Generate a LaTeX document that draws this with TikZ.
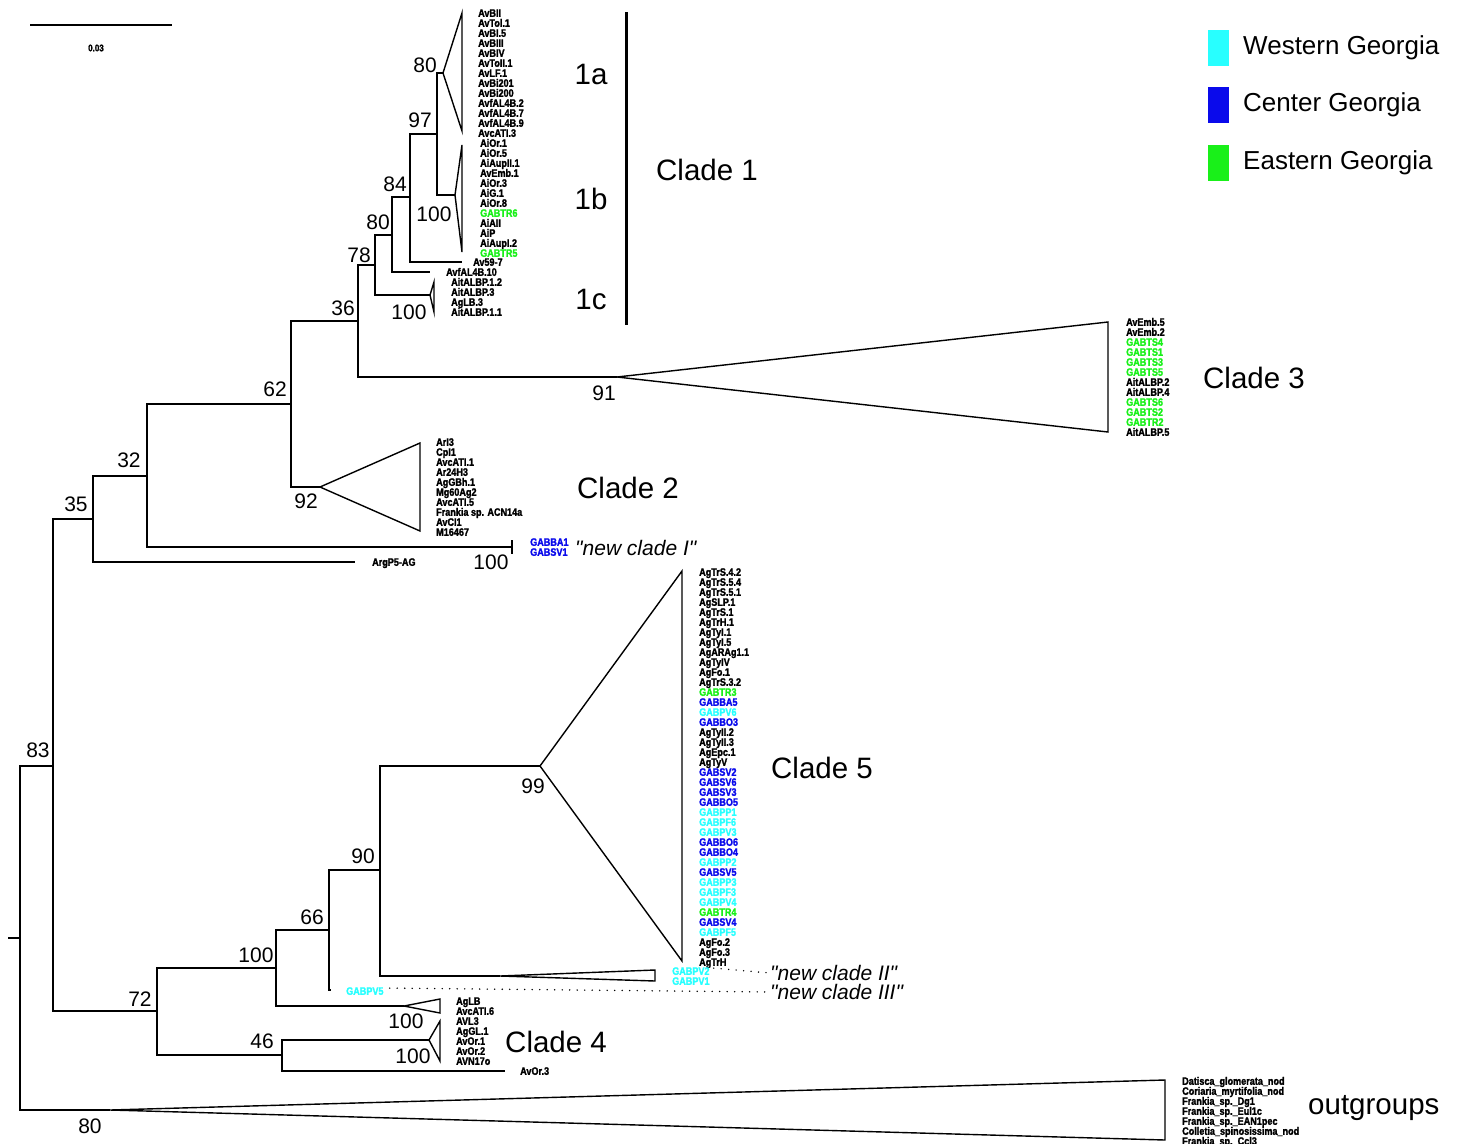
\documentclass[tikz,border=0pt]{standalone}
\usepackage{fontspec}
\setmainfont{Liberation Sans}
\newfontfamily\tipfont[FakeStretch=0.84,FakeBold=1.8]{Liberation Sans Bold}
\usepackage{xcolor}
\definecolor{westgeo}{RGB}{40,255,255}
\definecolor{centgeo}{RGB}{10,10,235}
\definecolor{eastgeo}{RGB}{25,240,25}
\newcommand{\colW}{\color{westgeo}}
\newcommand{\colC}{\color{centgeo}}
\newcommand{\colE}{\color{eastgeo}}
\tikzset{
  branch/.style={line width=1.4pt},
  collapsed/.style={line width=1.4pt, line join=miter},
  tip/.style={font=\tipfont\fontsize{10.8}{10}\selectfont, anchor=base west, inner sep=0pt},
  boot/.style={font=\fontsize{21}{21}\selectfont, inner sep=0pt},
  clade/.style={font=\fontsize{29.5}{30}\selectfont, inner sep=0pt},
  newclade/.style={font=\itshape\fontsize{21}{21}\selectfont, anchor=west, inner sep=0pt},
  legendtext/.style={font=\fontsize{26}{26}\selectfont, anchor=west, inner sep=0pt},
  dotline/.style={line width=1.6pt, line cap=round, dash pattern=on 0pt off 7.5pt},
}
% list of tip labels, 10pt apart
\newcommand{\tiplist}[4]{%
  \foreach \t [count=\i] in {#4}
    \node[tip] (#3-\i) at ({#1},{#2+10*(\i-1)+3.8}) {\t};}

\begin{document}
\begin{tikzpicture}[x=1pt,y=-1pt]
  \useasboundingbox (0,0) rectangle (1458,1143);

  % Internal nodes
  \coordinate (stub) at (8,938);
  \coordinate (root) at (20,938);
  \coordinate (n83)  at (53,766);
  \coordinate (n35)  at (93,519);
  \coordinate (n32)  at (147,476);
  \coordinate (n62)  at (291,404);
  \coordinate (n36)  at (358,321);
  \coordinate (n78)  at (375,265);
  \coordinate (n80)  at (392,235);
  \coordinate (n84)  at (410,197);
  \coordinate (n97)  at (437,134);
  \coordinate (n72)  at (157,1011);
  \coordinate (n100) at (276,968);
  \coordinate (n66)  at (329,930);
  \coordinate (n90)  at (380,870);
  \coordinate (n46)  at (282,1055);

  % Collapsed clades and tips
  \coordinate (c1a)  at (443,73);
  \coordinate (c1b)  at (455,195);
  \coordinate (c1c)  at (430,295);
  \coordinate (c2)   at (320,487);
  \coordinate (c3)   at (617,377);
  \coordinate (c5)   at (540,766);
  \coordinate (cII)  at (500,976);
  \coordinate (c4a)  at (404,1006);
  \coordinate (c4b)  at (429,1040);
  \coordinate (og)   at (110,1110);
  \coordinate (cI)   at (512,547);
  \coordinate (tav)  at (462,262);
  \coordinate (tfal) at (430,272);
  \coordinate (targ) at (355,562);
  \coordinate (tpv5) at (331,990);
  \coordinate (tor3) at (505,1071);

  % Branches
  \draw[branch] (stub) -- (root);
  \draw[branch] (root) |- (n83);  \draw[branch] (root) |- (og);
  \draw[branch] (n83) |- (n35);   \draw[branch] (n83) |- (n72);
  \draw[branch] (n35) |- (n32);   \draw[branch] (n35) |- (targ);
  \draw[branch] (n32) |- (n62);   \draw[branch] (n32) |- (cI);
  \draw[branch] (n62) |- (n36);   \draw[branch] (n62) |- (c2);
  \draw[branch] (n36) |- (n78);   \draw[branch] (n36) |- (c3);
  \draw[branch] (n78) |- (n80);   \draw[branch] (n78) |- (c1c);
  \draw[branch] (n80) |- (n84);   \draw[branch] (n80) |- (tfal);
  \draw[branch] (n84) |- (n97);   \draw[branch] (n84) |- (tav);
  \draw[branch] (n97) |- (c1a);   \draw[branch] (n97) |- (c1b);
  \draw[branch] (n72) |- (n100);  \draw[branch] (n72) |- (n46);
  \draw[branch] (n100) |- (n66);  \draw[branch] (n100) |- (c4a);
  \draw[branch] (n66) |- (n90);   \draw[branch] (n66) |- (tpv5);
  \draw[branch] (n90) |- (c5);    \draw[branch] (n90) |- (cII);
  \draw[branch] (n46) |- (c4b);   \draw[branch] (n46) |- (tor3);
  \draw[branch] (cI) ++(0,-7) -- ++(0,14);

  % Triangles
  \draw[collapsed] (c1a) -- ++(19,-60) -- ++(0,118) -- cycle;
  \draw[collapsed] (c1b) -- ++(7,-50) -- ++(0,107) -- cycle;
  \draw[collapsed] (c1c) -- ++(4,-13) -- ++(0,30) -- cycle;
  \draw[collapsed] (c2) -- ++(100,-44) -- ++(0,88) -- cycle;
  \draw[collapsed] (c3) -- ++(491,-55) -- ++(0,110) -- cycle;
  \draw[collapsed] (c5) -- ++(142,-195) -- ++(0,390) -- cycle;
  \draw[collapsed] (cII) -- ++(155,-6) -- ++(0,11) -- cycle;
  \draw[collapsed] (c4a) -- ++(36,-7) -- ++(0,14) -- cycle;
  \draw[collapsed] (c4b) -- ++(11,-19) -- ++(0,40) -- cycle;
  \draw[collapsed] (og) -- ++(1055,-30) -- ++(0,60) -- cycle;

  % Tip labels
  \tiplist{478}{13}{l1a}{AvBII, AvTol.1, AvBI.5, AvBIII, AvBIV, AvToII.1, AvLF.1, AvBi201, AvBi200, AvfAL4B.2, AvfAL4B.7, AvfAL4B.9, AvcATI.3}
  \tiplist{480}{143}{l1b}{AiOr.1, AiOr.5, AiAupII.1, AvEmb.1, AiOr.3, AiG.1, AiOr.8, \colE GABTR6, AiAII, AiP, AiAupI.2, \colE GABTR5}
  \tiplist{473}{262}{lav}{Av59-7}
  \tiplist{446}{272}{lfal}{AvfAL4B.10}
  \tiplist{451}{282}{l1c}{AitALBP.1.2, AitALBP.3, AgLB.3, AitALBP.1.1}
  \tiplist{1126}{322}{l3}{AvEmb.5, AvEmb.2, \colE GABTS4, \colE GABTS1, \colE GABTS3, \colE GABTS5, AitALBP.2, AitALBP.4, \colE GABTS6, \colE GABTS2, \colE GABTR2, AitALBP.5}
  \tiplist{436}{442}{l2}{ArI3, CpI1, AvcATI.1, Ar24H3, AgGBh.1, Mg60Ag2, AvcATI.5, Frankia sp. ACN14a, AvCI1, M16467}
  \tiplist{530}{542}{lI}{\colC GABBA1, \colC GABSV1}
  \tiplist{372}{562}{larg}{ArgP5-AG}
  \tiplist{699}{572}{l5}{AgTrS.4.2, AgTrS.5.4, AgTrS.5.1, AgSLP.1, AgTrS.1, AgTrH.1, AgTyI.1, AgTyI.5, AgARAg1.1, AgTyIV, AgFo.1, AgTrS.3.2, \colE GABTR3, \colC GABBA5, \colW GABPV6, \colC GABBO3, AgTyII.2, AgTyII.3, AgEpc.1, AgTyV, \colC GABSV2, \colC GABSV6, \colC GABSV3, \colC GABBO5, \colW GABPP1, \colW GABPF6, \colW GABPV3, \colC GABBO6, \colC GABBO4, \colW GABPP2, \colC GABSV5, \colW GABPP3, \colW GABPF3, \colW GABPV4, \colE GABTR4, \colC GABSV4, \colW GABPF5, AgFo.2, AgFo.3, AgTrH}
  \tiplist{672}{971}{lII}{\colW GABPV2, \colW GABPV1}
  \tiplist{346}{991}{lIII}{\colW GABPV5}
  \tiplist{456}{1001}{l4a}{AgLB, AvcATI.6}
  \tiplist{456}{1021}{l4b}{AVL3, AgGL.1, AvOr.1, AvOr.2, AVN17o}
  \tiplist{520}{1071}{lor3}{AvOr.3}
  \tiplist{1182}{1081}{log}{Datisca\_glomerata\_nod, Coriaria\_myrtifolia\_nod, Frankia\_sp.\_Dg1, Frankia\_sp.\_Eul1c, Frankia\_sp.\_EAN1pec, Colletia\_spinosissima\_nod, Frankia\_sp.\_Ccl3}

  % Bootstrap values
  \foreach \x/\y/\v [count=\i] in {425/65/80, 420/120/97, 395/184/84, 434/214/100, 378/222/80, 359/255/78, 409/312/100, 343/308/36, 604/393/91, 275/389/62, 306/501/92, 129/460/32, 76/504/35, 491/562/100, 38/750/83, 533/786/99, 363/856/90, 312/917/66, 256/955/100, 140/999/72, 406/1021/100, 262/1041/46, 413/1056/100, 90/1126/80}
    \node[boot] (bs\i) at (\x,\y) {\v};

  % Clade names
  \coordinate (bartop) at (626,12);
  \coordinate (barbot) at (626,325);
  \draw[line width=3pt] (bartop) -- (barbot);
  \node[clade] (n1a) at (591,74) {1a};
  \node[clade] (n1b) at (591,199) {1b};
  \node[clade] (n1c) at (591,299) {1c};
  \node[clade] (cl1) at (707,170) {Clade 1};
  \node[clade] (cl2) at (628,488) {Clade 2};
  \node[clade] (cl3) at (1254,378) {Clade 3};
  \node[clade] (cl5) at (822,768) {Clade 5};
  \node[clade, anchor=west] (cl4) at (505,1042) {Clade 4};
  \node[clade, anchor=west] (clog) at (1308,1108) {outgroups};
  \node[newclade] (ncI) at (575,548) {\textquotedbl new clade I\textquotedbl};
  \node[newclade] (ncII) at (770,973) {\textquotedbl new clade II\textquotedbl};
  \node[newclade] (ncIII) at (770,992) {\textquotedbl new clade III\textquotedbl};

  % Dots
  \draw[dotline] (lII-1.east) ++(4,-3) -- (ncII.west);
  \draw[dotline] (lIII-1.east) ++(6,-3) -- (ncIII.west);

  % Scale bar
  \coordinate (sbl) at (30,25);
  \coordinate (sbr) at (172,25);
  \draw[line width=1.4pt] (sbl) -- (sbr);
  \node[tip, anchor=center, font=\tipfont\fontsize{9.5}{9}\selectfont] (sbt) at (96,48) {0.03};

  % Legend
  \foreach \y/\c/\t [count=\i] in {48/westgeo/Western Georgia, 105/centgeo/Center Georgia, 163/eastgeo/Eastern Georgia} {
    \fill[\c] (1208,\y-18) rectangle (1229,\y+18);
    \node[legendtext] (leg\i) at (1243,\y) {\t};
  }
\end{tikzpicture}
\end{document}
